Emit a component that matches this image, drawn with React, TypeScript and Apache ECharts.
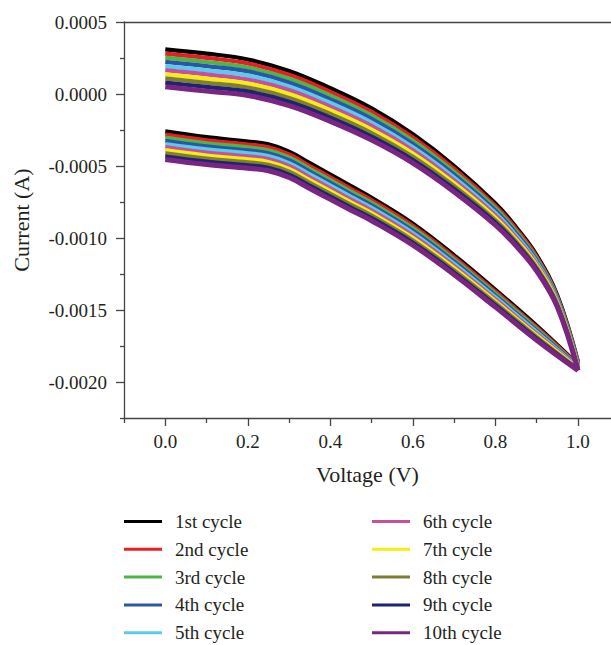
import React, { useEffect, useRef } from "react";
import * as echarts from "echarts";

// Voltage (V) sample positions
const upperX = [0, 0.1, 0.2, 0.3, 0.4, 0.5, 0.6, 0.7, 0.8, 0.85, 0.9, 0.95, 1.0];
const lowerX = [0, 0.1, 0.2, 0.25, 0.3, 0.35, 0.4, 0.45, 0.5, 0.6, 0.7, 0.8, 0.9, 1.0];

// Current in microamperes, upper branch per cycle
const upper1 = [310, 280, 240, 160, 40, -100, -280, -500, -760, -925, -1120, -1400, -1860];
const upper2 = [281, 251, 212, 133, 14, -124, -302, -520, -777, -939, -1132, -1409, -1867];
const upper3 = [252, 222, 184, 107, -11, -149, -324, -540, -793, -954, -1144, -1418, -1873];
const upper4 = [223, 193, 157, 80, -37, -173, -347, -560, -810, -968, -1157, -1427, -1880];
const upper5 = [194, 164, 129, 53, -62, -198, -369, -580, -827, -983, -1169, -1436, -1887];
const upper6 = [166, 136, 101, 27, -88, -222, -391, -600, -843, -997, -1181, -1444, -1893];
const upper7 = [137, 107, 73, 0, -113, -247, -413, -620, -860, -1011, -1193, -1453, -1900];
const upper8 = [108, 78, 45, -27, -139, -271, -436, -640, -877, -1026, -1206, -1462, -1907];
const upper9 = [79, 49, 18, -53, -164, -296, -458, -660, -893, -1040, -1218, -1471, -1913];
const upper10 = [50, 20, -10, -80, -190, -320, -480, -680, -910, -1055, -1230, -1480, -1920];

// Current in microamperes, lower branch per cycle
const lower1 = [-260, -300, -330, -350, -400, -480, -560, -640, -720, -900, -1120, -1360, -1610, -1880];
const lower2 = [-282, -321, -351, -370, -420, -500, -579, -659, -738, -917, -1135, -1373, -1621, -1884];
const lower3 = [-303, -342, -371, -391, -440, -519, -598, -677, -756, -933, -1150, -1387, -1632, -1889];
const lower4 = [-325, -363, -392, -411, -460, -539, -617, -696, -773, -950, -1165, -1400, -1643, -1893];
const lower5 = [-347, -384, -412, -431, -480, -558, -636, -714, -791, -967, -1180, -1413, -1654, -1898];
const lower6 = [-368, -406, -433, -452, -500, -578, -656, -733, -809, -983, -1195, -1427, -1666, -1902];
const lower7 = [-390, -427, -454, -472, -520, -598, -675, -752, -827, -1000, -1210, -1440, -1677, -1906];
const lower8 = [-412, -448, -474, -492, -540, -617, -694, -770, -845, -1017, -1225, -1453, -1688, -1911];
const lower9 = [-434, -469, -495, -512, -560, -637, -713, -789, -862, -1033, -1240, -1467, -1699, -1915];
const lower10 = [-455, -490, -515, -533, -580, -656, -732, -807, -880, -1050, -1255, -1480, -1710, -1920];

const cycleNames = [
  "1st cycle", "2nd cycle", "3rd cycle", "4th cycle", "5th cycle",
  "6th cycle", "7th cycle", "8th cycle", "9th cycle", "10th cycle",
];
const cycleColors = [
  "#000000", "#ec1c24", "#4cb748", "#2b56a7", "#5ccbea",
  "#c4509f", "#f7ec13", "#7f7f34", "#1f2374", "#7a2582",
];
const upperSets = [upper1, upper2, upper3, upper4, upper5, upper6, upper7, upper8, upper9, upper10];
const lowerSets = [lower1, lower2, lower3, lower4, lower5, lower6, lower7, lower8, lower9, lower10];

const xMajorTicks = [0, 0.2, 0.4, 0.6, 0.8, 1.0];
const xMinorTicks = [-0.1, 0.1, 0.3, 0.5, 0.7, 0.9];
const yMajorTicks = [-0.002, -0.0015, -0.001, -0.0005, 0, 0.0005];
const yMinorTicks = [-0.00225, -0.00175, -0.00125, -0.00075, -0.00025, 0.00025];

const FONT = "Liberation Serif";
const TEXT = "#231f20";
const AXIS = "#444444";

export default function App() {
  const ref = useRef<HTMLDivElement>(null);
  useEffect(() => {
    if (!ref.current) return;
    const chart = echarts.init(ref.current, undefined, { renderer: "svg" });
    const toPairs = (xs: number[], ys: number[]) => xs.map((x, i) => [x, ys[i] * 1e-6]);
    const series: any[] = [];
    cycleNames.forEach((name, i) => {
      const w = i === 9 ? 5 : 4.2;
      series.push({
        name, type: "line", data: toPairs(upperX, upperSets[i]), smooth: 0.4,
        showSymbol: false, symbol: "none", color: cycleColors[i],
        lineStyle: { width: w, color: cycleColors[i] }, xAxisIndex: 0, yAxisIndex: 0,
      });
      series.push({
        name, type: "line", data: toPairs(lowerX, lowerSets[i]), smooth: 0.4,
        showSymbol: false, symbol: "none", color: cycleColors[i],
        lineStyle: { width: w, color: cycleColors[i] }, xAxisIndex: 0, yAxisIndex: 0,
      });
    });
    const axisLine = { lineStyle: { color: AXIS, width: 1.3 } };
    const legendBase = {
      orient: "vertical", top: 512, height: 140, padding: 0,
      itemWidth: 38, itemHeight: 3, itemGap: 8.8,
      icon: "rect",
      textStyle: { fontSize: 19, fontFamily: FONT, color: TEXT, lineHeight: 18, padding: [0, 0, 0, 8] },
    };
    chart.setOption({
      animation: false,
      backgroundColor: "#ffffff",
      grid: { left: 124, right: 0, top: 22, bottom: 227, containLabel: false },
      xAxis: [
        {
          type: "value", min: -0.1, max: 1.08, position: "bottom",
          axisLine: { show: true, onZero: false, ...axisLine },
          axisTick: { show: true, customValues: xMajorTicks, length: 8, lineStyle: { color: AXIS, width: 1.3 } },
          axisLabel: {
            customValues: xMajorTicks, formatter: (v: number) => v.toFixed(1),
            margin: 14, fontSize: 19, fontFamily: FONT, color: TEXT,
          },
          splitLine: { show: false },
          name: "Voltage (V)", nameLocation: "middle", nameGap: 45,
          nameTextStyle: { fontSize: 22, fontFamily: FONT, color: TEXT },
        },
        {
          type: "value", min: -0.1, max: 1.08, position: "bottom",
          axisLine: { show: false, onZero: false },
          axisTick: { show: true, customValues: xMinorTicks, length: 5, lineStyle: { color: AXIS, width: 1.3 } },
          axisLabel: { show: false }, splitLine: { show: false },
        },
        {
          type: "value", min: -0.1, max: 1.08, position: "top",
          axisLine: { show: true, onZero: false, ...axisLine },
          axisTick: { show: false }, axisLabel: { show: false }, splitLine: { show: false },
        },
      ],
      yAxis: [
        {
          type: "value", min: -0.00225, max: 0.0005, position: "left",
          axisLine: { show: true, onZero: false, ...axisLine },
          axisTick: { show: true, customValues: yMajorTicks, length: 8, lineStyle: { color: AXIS, width: 1.3 } },
          axisLabel: {
            customValues: yMajorTicks, formatter: (v: number) => v.toFixed(4),
            margin: 17, fontSize: 19, fontFamily: FONT, color: TEXT,
          },
          splitLine: { show: false },
          name: "Current (A)", nameLocation: "middle", nameGap: 92,
          nameTextStyle: { fontSize: 22, fontFamily: FONT, color: TEXT },
        },
        {
          type: "value", min: -0.00225, max: 0.0005, position: "left",
          axisLine: { show: false, onZero: false },
          axisTick: { show: true, customValues: yMinorTicks, length: 4, lineStyle: { color: AXIS, width: 1.3 } },
          axisLabel: { show: false }, splitLine: { show: false },
        },
      ],
      legend: [
        { ...legendBase, left: 124, data: cycleNames.slice(0, 5) },
        { ...legendBase, left: 372, data: cycleNames.slice(5) },
      ],
      series,
    });
    return () => chart.dispose();
  }, []);
  return (
    <div
      ref={ref}
      style={{ position: "absolute", left: 0, top: 0, width: 611, height: 645 }}
    />
  );
}
